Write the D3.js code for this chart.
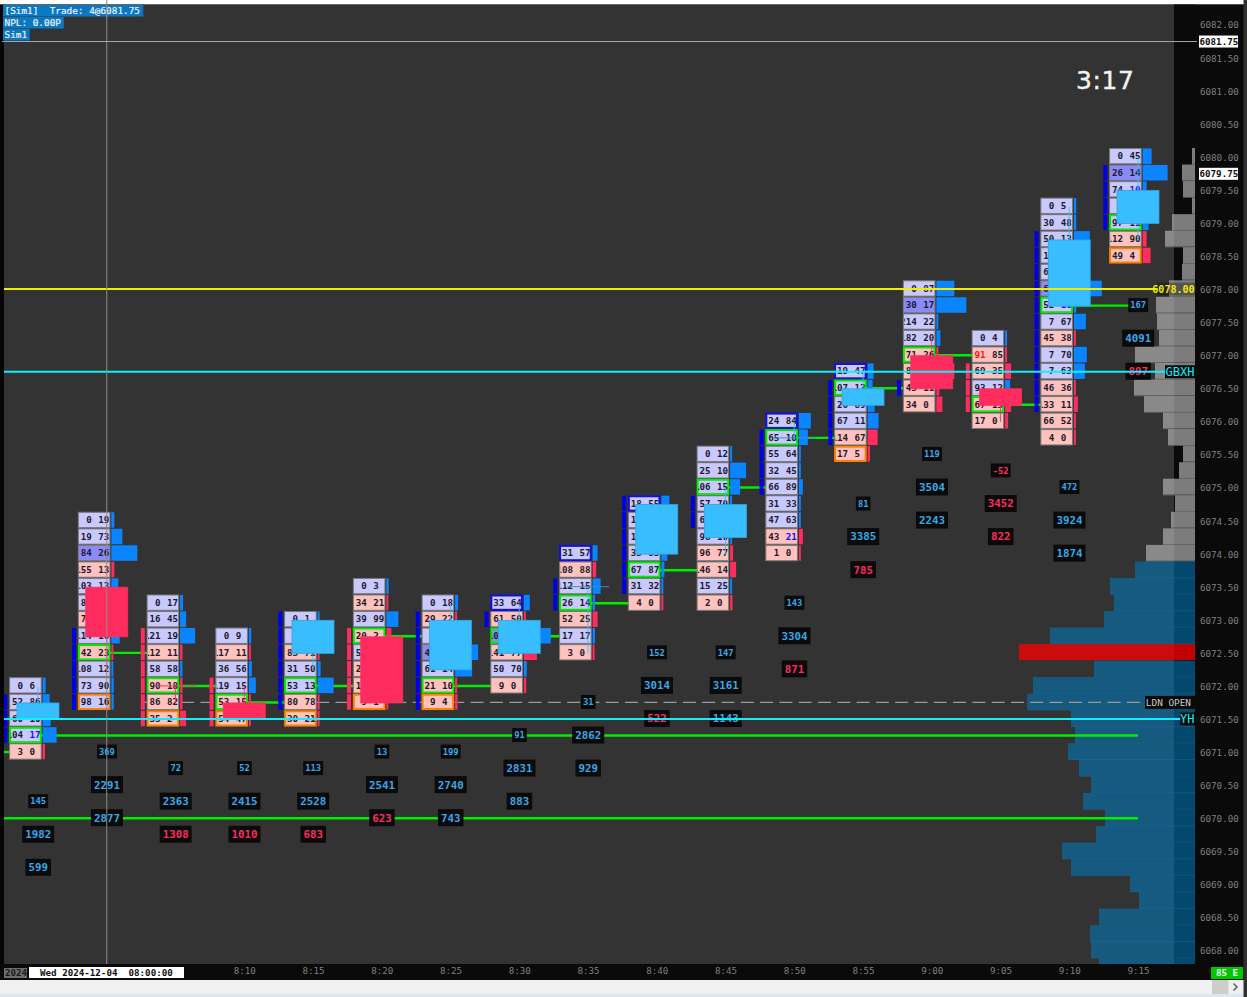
<!DOCTYPE html>
<html><head><meta charset="utf-8">
<style>html,body{margin:0;padding:0;background:#303030;overflow:hidden}svg{display:block}text{font-family:"DejaVu Sans Mono",monospace;white-space:pre}</style>
<script src="https://cdn.jsdelivr.net/npm/d3@7"></script>
</head><body><script>
// ---- data ----
const minutes=[475,480,485,490,495,500,505,510,515,520,525,530,535,540,545,550,555];
const topPrice=[6072,6074.5,6073.25,6072.75,6073,6073.5,6073.25,6073.25,6074,6074.75,6075.5,6076,6076.75,6078,6077.25,6079.25,6080];
const bids=[[0,52,60,104,3],[0,19,84,155,103,83,70,114,42,108,73,98],[0,16,121,112,58,90,86,35],[0,117,36,119,53,54],[0,8,83,31,53,80,30],[0,34,39,20,53,24,18,9],[0,29,8,47,61,21,9],[33,61,102,141,50,9],[31,108,112,26,52,17,3],[18,14,16,33,67,31,4],[0,25,106,57,66,98,96,146,15,2],[24,65,55,32,66,31,47,43,1],[19,107,26,67,114,17],[0,30,214,182,71,88,43,34],[0,91,69,93,67,17],[0,30,50,14,62,66,52,7,45,7,7,46,133,66,4],[0,26,74,8,97,112,49]];
const asks=[[6,86,100,176,0],[195,73,264,138,137,95,66,168,23,124,90,166],[17,45,19,116,58,184,82,2],[9,116,56,152,158,47],[1,140,71,50,138,78,21],[3,21,99,2,62,18,15,1],[18,22,120,190,146,105,4],[64,50,170,77,70,0],[57,88,158,142,25,17,0],[55,42,39,85,87,32,0],[12,105,154,70,72,108,77,140,25,0],[84,108,64,45,89,33,63,21,0],[47,130,89,116,67,5],[87,174,228,204,26,60,11,0],[4,85,35,120,13,0],[5,48,130,110,120,250,108,67,38,70,63,36,11,52,0],[45,146,106,110,118,90,4]];
const deltas=[[15,35,40,70,-12],[15,55,130,-15,35,30,-20,42,-10,10,12,12],[15,30,75,-12,12,-12,-12,-30],[12,-10,15,35,-10,-10],[10,40,-10,15,80,-10,-10],[12,-10,60,-25,10,-10,-10,-10],[15,-10,40,115,85,-10,-12],[30,-10,135,-65,15,-12],[25,-18,40,12,-25,12,-10],[40,30,30,30,15,10,-10],[10,80,50,10,10,10,-15,-30,10,-12],[60,45,10,10,20,10,10,-20,-10],[30,25,35,55,-50,-12],[90,150,10,20,-10,-90,-15,-30],[10,-10,-30,25,-30,-15],[12,12,80,80,80,140,12,60,-10,65,55,-10,-20,-10,-10],[45,125,20,20,30,-20,-40]];
const pocPrice=[6071.25,6072.5,6072,6071.75,6072,6072.75,6072,6072.75,6073.25,6073.75,6075,6075.75,6076.5,6077,6076.25,6077.75,6079];
const blueEdgePrice=[null,null,null,null,null,null,null,6073.25,6074,6074.75,null,6076,6076.75,null,null,null,null];
const orangeEdgePrice=[null,6071.75,6071.5,6071.5,6071.5,6071.75,6071.75,null,null,null,null,null,6075.5,null,null,null,6078.5];
const blueAskCells=[[0,3],[11,7],[15,6],[16,2]];
const redBidCells=[[14,1]];
const vaHigh=[6071.75,6072.75,6072.75,6072,6073,6072.75,6073,6073,6073.5,6074.75,6074.75,6075.75,6076.5,6076.5,6076.75,6078.75,6079.75];
const vaLow=[6071.25,6071.75,6071.5,6071.5,6071.75,6071.75,6071.75,6073,6073.25,6073.5,6074.5,6075,6075.75,6076.5,6076.25,6076.25,6079];
const vaSign=[1,1,-1,-1,1,-1,1,1,1,1,1,1,1,1,-1,1,1];
const opens=[6071.5,6073.5,6072,6071.75,6072.5,6072.75,6072.25,6072.5,6073.5,6074,6074.25,6075.75,6076.25,6077,6076.5,6077.75,6079];
const closes=[6071.75,6072.75,6072,6071.5,6073,6071.75,6073,6073,6073.5,6074.75,6074.75,6075.75,6076.5,6076.5,6076.25,6078.75,6079.5];
const highs=[6072,6073.5,6072,6072,6073,6072.75,6073.25,6073.25,6073.5,6074.75,6075,6076,6076.75,6077.25,6076.5,6079.25,6080];
const lows=[6071.5,6072.25,6071.75,6071.5,6072.25,6071.75,6072.25,6072.5,6072.5,6074,6074,6075.75,6076.25,6076.5,6076,6077.75,6078.75];
const candleDir=[1,-1,-1,-1,1,-1,1,1,1,1,1,1,1,-1,-1,1,1];
const statPrice=[6070.25,6071,6070.75,6070.75,6070.75,6071,6071,6071.25,6071.75,6072.5,6072.5,6073.25,6074.75,6075.5,6075.25,6075,6077.75];
const barDelta=[145,369,72,52,113,13,199,91,31,152,147,143,81,119,-52,472,167];
const cumDelta=[1982,2291,2363,2415,2528,2541,2740,2831,2862,3014,3161,3304,3385,3504,3452,3924,4091];
const sessDelta=[599,2877,-1308,-1010,-683,-623,743,883,929,-522,1143,-871,-785,2243,-822,1874,-897];
const nakedPrice=[6070,6071,6071.25];
const nakedFrom=[472,472,475];
const nakedTo=[555,475,555];
const profileTop=6080;
const profileVol=[3,13,12,3,23,30,12,13,26,39,38,36,60,40,61,51,32,27,12,16,32,20,24,32,49,60,85,81,91,145,176,101,162,168,124,120,127,116,104,112,90,99,133,124,65,56,96,105,104,96];
const profilePoc=6072.5, profileGreyFrom=6074;
const priceTicks=d3.range(6068,6082.01,0.5);
const timeTicks=d3.range(490,556,5);
const headerLines=["[Sim1]  Trade: 4@6081.75","NPL: 0.00P","Sim1"];
const lastPrice=6081.75, bidPrice=6079.75;
const clockText="3:17", dateText="Wed 2024-12-04  08:00:00", yearText="2024", statusText="85 E";

// ---- scales ----
const W=1247,H=997,plotL=4,plotT=5,plotR=1195,plotB=964,bandL=1174;
const y=d3.scaleLinear().domain([6082,6068]).range([25,951]);
const x=d3.scaleLinear().domain([475,555]).range([38,1138]);
const rowH=y(6079)-y(6079.25);
const rowY=p=>y(p)-1;
const barW=d3.scaleLinear().domain([0,150]).range([0,30]);
const volW=d3.scaleLinear().domain([0,176]).range([0,176]);
const BLUE="#0a84ff",RED="#ff2c5f",CBLUE="#38bdff",GREEN="#00ee00",CYAN="#0ef0ff",YELLOW="#eeee00";
const svg=d3.select("body").append("svg").attr("width",W).attr("height",H);
const rect=(g,a,b,w,h,f)=>g.append("rect").attr("x",a).attr("y",b).attr("width",w).attr("height",h).attr("fill",f);

// frame
rect(svg,0,0,W,H,"#303030");
rect(svg,0,0,1243.5,4.5,"#ffffff");
rect(svg,0,4.5,plotL,plotB-4.5,"#050505");
rect(svg,plotL,plotT-.5,plotR-plotL,plotB-plotT+.5,"#333333");
rect(svg,bandL,plotT-.5,plotR-bandL,plotB-plotT+.5,"#0a0a0a");
rect(svg,plotR,plotT-.5,1243.5-plotR,plotB-plotT+.5,"#0a0a0a");
rect(svg,0,plotB,1243.5,16,"#0a0a0a");
rect(svg,0,980,W,17,"#f0f0f0");
rect(svg,0,994,W,3,"#dfe6f2");
rect(svg,1243.5,980,W-1243.5,17,"#303030");

svg.append("defs").append("clipPath").attr("id","plot").append("rect").attr("x",plotL).attr("y",plotT).attr("width",plotR-plotL).attr("height",plotB-plotT);
const chart=svg.append("g").attr("clip-path","url(#plot)");

// volume profile
const prof=chart.append("g");
profileVol.forEach((v,i)=>{
  const p=profileTop-i*0.25;
  const fill=p===profilePoc?"rgba(255,0,0,.75)":p>=profileGreyFrom?"rgba(178,178,178,.68)":"rgba(0,121,189,.56)";
  rect(prof,plotR-volW(v),rowY(p)-rowH/2,volW(v),rowH-.6,fill);
  if(p!==profilePoc) prof.append("line").attr("x1",plotR-volW(v)).attr("x2",plotR).attr("y1",rowY(p)+rowH/2-.3).attr("y2",rowY(p)+rowH/2-.3).attr("stroke",p>=profileGreyFrom?"#6e6e6e":"#0f6e9e").attr("stroke-width",.8);
});

// dashed session line
chart.append("line").attr("x1",x(482.6)).attr("x2",plotR-50).attr("y1",y(6071.75)-.5).attr("y2",y(6071.75)-.5).attr("stroke","#9a9a9a").attr("stroke-width",1.2).attr("stroke-dasharray","13 6.3");

// POC lines
const pocG=chart.append("g").attr("stroke",GREEN).attr("stroke-width",2.4);
nakedPrice.forEach((p,i)=>pocG.append("line").attr("x1",x(nakedFrom[i])).attr("x2",x(nakedTo[i])).attr("y1",y(p)-.5).attr("y2",y(p)-.5));
minutes.forEach((m,i)=>{ if(i>0&&i<minutes.length-1) pocG.append("line").attr("x1",x(m)).attr("x2",x(minutes[i+1])).attr("y1",y(pocPrice[i])-.5).attr("y2",y(pocPrice[i])-.5); });

// footprint cells
const cells=chart.append("g");
minutes.forEach((m,c)=>{
  const t=x(m);
  const g=cells.append("g");
  bids[c].forEach((b,r)=>{
    const p=topPrice[c]-r*0.25, d=deltas[c][r], cy=rowY(p);
    const fill=d>=110?"#8a8af8":d>0?"#c9c9ff":"#ffc2be";
    rect(g,t+4.6,cy-rowH/2+.4,barW(Math.abs(d)),rowH-1,d>0?BLUE:RED);
    const isPoc=p===pocPrice[c], isB=p===blueEdgePrice[c], isO=p===orangeEdgePrice[c];
    const stroke=isPoc?GREEN:isB?"#1010e0":isO?"#ff8000":"#7a7a7a";
    const sw=(isPoc||isB||isO)?2:1;
    const inset=(sw-1)/2;
    g.append("rect").attr("x",t-28.4+inset).attr("y",cy-rowH/2+.5+inset).attr("width",31.6-2*inset).attr("height",rowH-1.2-2*inset).attr("fill",fill).attr("stroke",stroke).attr("stroke-width",sw);
    const clip=g.append("svg").attr("x",t-27.5).attr("y",cy-rowH/2+1).attr("width",30).attr("height",rowH-2);
    const ty=rowH/2-1+3.2;
    const hiB=blueAskCells.some(h=>h[0]===c&&h[1]===r), hiR=redBidCells.some(h=>h[0]===c&&h[1]===r);
    clip.append("text").attr("x",12.5).attr("y",ty).attr("text-anchor","end").attr("font-size",9.2).attr("font-weight","bold").attr("fill",hiR?"#ff1010":"#1c1c2c").text(b);
    clip.append("text").attr("x",19).attr("y",ty).attr("font-size",9.2).attr("font-weight","bold").attr("fill",hiB?"#1414f0":"#1c1c2c").text(asks[c][r]);
  });
  for(let p=vaHigh[c];p>=vaLow[c];p-=0.25){
    rect(g,t-34.7,rowY(p)-rowH/2+.5,4,rowH-1,vaSign[c]>0?"#0000e6":RED);
  }
});

// candles
const cand=chart.append("g");
minutes.forEach((m,i)=>{
  const t=x(m), col=candleDir[i]>0?CBLUE:RED;
  cand.append("line").attr("x1",t).attr("x2",t).attr("y1",y(highs[i])).attr("y2",y(lows[i])).attr("stroke",col).attr("stroke-width",1).attr("opacity",.85);
  const top=Math.max(opens[i],closes[i]),bot=Math.min(opens[i],closes[i]);
  if(top===bot){
    cand.append("line").attr("x1",t-21).attr("x2",t+21).attr("y1",y(top)-.5).attr("y2",y(top)-.5).attr("stroke",candleDir[i]>0?"#3a8fc8":"#d04a5a").attr("stroke-width",1);
  }else{
    rect(cand,t-21,y(top),42,y(bot)-y(top),col).attr("stroke",candleDir[i]>0?"#36a2e0":RED).attr("stroke-width",.8);
  }
});

// stat labels
const lab=chart.append("g");
function stat(cx,cy,val,fs){
  const s=String(fs<10?val:Math.abs(val));
  const cw=fs*.602,w=s.length*cw+(fs<10?4:6),h=fs<10?14:17;
  rect(lab,cx-w/2,cy-h/2,w,h,"#0a0a0a");
  lab.append("text").attr("x",cx).attr("y",cy+fs*.36).attr("text-anchor","middle").attr("font-size",fs).attr("font-weight","bold").attr("fill",val<0?RED:"#38a8e8").text(s);
}
minutes.forEach((m,i)=>{
  const t=x(m)+.2;
  stat(t,y(statPrice[i])-1,barDelta[i],8.8);
  stat(t,y(statPrice[i]-.5)-1,cumDelta[i]*(barDelta[i]<0?-1:1),10.8);
  stat(t,y(statPrice[i]-1)-1,sessDelta[i],10.8);
});

// labelled reference lines
const refs=chart.append("g");
function refLine(p,col,to,w){refs.append("line").attr("x1",0).attr("x2",to).attr("y1",y(p)-.5).attr("y2",y(p)-.5).attr("stroke",col).attr("stroke-width",w);}
refLine(6078,YELLOW,1158,2);
refLine(6076.75,CYAN,1165,2);
refLine(6071.5,CYAN,1180,2);
function refLabel(p,txt,col,xl,xr,fs,bg,wt){
  rect(refs,xl,y(p)-7,plotR-xl,13,bg);
  refs.append("text").attr("x",xr).attr("y",y(p)-.5+fs*.36).attr("text-anchor","end").attr("font-size",fs).attr("font-weight",wt).attr("fill",col).text(txt);
}
refLabel(6078,"6078.00",YELLOW,1157,1194.5,10,"rgba(10,10,10,.35)","bold");
refLabel(6076.75,"GBXH",CYAN,1165,1194.5,12,"#0a0a0a","normal");
refLabel(6071.75,"LDN OPEN","#c8c8c8",1145,1191,9.4,"#0a0a0a","normal");
refLabel(6071.5,"YH",CYAN,1180,1194.5,12,"#0a0a0a","normal");

// clock
svg.append("text").attr("x",1076).attr("y",89).attr("font-size",25).attr("letter-spacing",.6).attr("fill","#f2f2f2").attr("stroke","#f2f2f2").attr("stroke-width",.4).style("font-family","'DejaVu Sans'").text(clockText);

// header
const hdr=svg.append("g");
headerLines.forEach((s,i)=>{
  const yy=5+i*12, w=s.length*5.68+4;
  rect(hdr,3,yy,w,11.5,"#0b78c2");
  hdr.append("text").attr("x",4.5).attr("y",yy+9).attr("font-size",9.4).attr("fill","#f4f8fc").attr("stroke","#f4f8fc").attr("stroke-width",.15).text(s);
});

// axes
const yAxis=d3.axisRight(y).tickValues(priceTicks).tickSize(0).tickPadding(0).tickFormat(d3.format(".2f"));
const yg=svg.append("g").attr("transform",`translate(${plotR+5},0)`).call(yAxis);
yg.select(".domain").remove();
yg.selectAll("text").attr("font-size",9.2).attr("fill","#7f7f7f").style("font-family","'DejaVu Sans Mono'");
const fmt=m=>Math.floor(m/60)+":"+d3.format("02")(m%60);
const xAxis=d3.axisBottom(x).tickValues(timeTicks).tickSize(0).tickPadding(0).tickFormat(fmt);
const xg=svg.append("g").attr("transform",`translate(0,967)`).call(xAxis);
xg.select(".domain").remove();
xg.selectAll("text").attr("font-size",9.2).attr("fill","#7f7f7f").style("font-family","'DejaVu Sans Mono'");

// price flags
function flag(p,txt){
  rect(svg,1199,y(p)-6,39,12,"#ffffff");
  svg.append("text").attr("x",1199.5).attr("y",y(p)+3.3).attr("font-size",9.2).attr("font-weight","bold").attr("fill","#111").text(txt);
}

// crosshair
svg.append("line").attr("x1",x(480)).attr("x2",x(480)).attr("y1",0).attr("y2",plotB).attr("stroke","#8c8c8c").attr("stroke-width",1);
svg.append("line").attr("x1",plotL-2).attr("x2",1197).attr("y1",y(lastPrice)).attr("y2",y(lastPrice)).attr("stroke","#a8a8a8").attr("stroke-width",1);
flag(lastPrice,d3.format(".2f")(lastPrice));
flag(bidPrice,d3.format(".2f")(bidPrice));

// bottom strip
rect(svg,4,968,23,10,"#6e6e6e");
svg.append("text").attr("x",5).attr("y",976).attr("font-size",9.2).attr("font-weight","bold").attr("fill","#1c1c1c").text(yearText);
rect(svg,29,967,155,11,"#ffffff");
svg.append("text").attr("x",40).attr("y",976).attr("font-size",9.2).attr("font-weight","bold").attr("fill","#111").text(dateText);
rect(svg,1211,967,32,12,"#00c800");
svg.append("text").attr("x",1227).attr("y",976.3).attr("text-anchor","middle").attr("font-size",9.2).attr("font-weight","bold").attr("fill","#eaffea").text(statusText);
rect(svg,1212,980,16.5,14,"#cdcdcd");
svg.append("path").attr("d","M1233.5 983.5l3.5 3.5l-3.5 3.5").attr("fill","none").attr("stroke","#555").attr("stroke-width",1.4);
</script></body></html>
